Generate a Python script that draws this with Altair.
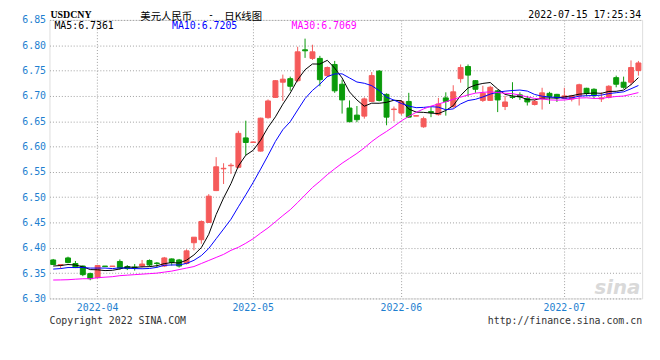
import altair as alt
import pandas as pd

# ---- data ----
dates = [
    "2022-03-24", "2022-03-25", "2022-03-28", "2022-03-29", "2022-03-30", "2022-03-31",
    "2022-04-01", "2022-04-02", "2022-04-06", "2022-04-07", "2022-04-08", "2022-04-11",
    "2022-04-12", "2022-04-13", "2022-04-14", "2022-04-15", "2022-04-18", "2022-04-19",
    "2022-04-20", "2022-04-21", "2022-04-22", "2022-04-24", "2022-04-25", "2022-04-26",
    "2022-04-27", "2022-04-28", "2022-04-29",
    "2022-05-05", "2022-05-06", "2022-05-07", "2022-05-09", "2022-05-10", "2022-05-11",
    "2022-05-12", "2022-05-13", "2022-05-16", "2022-05-17", "2022-05-18", "2022-05-19",
    "2022-05-20", "2022-05-23", "2022-05-24", "2022-05-25", "2022-05-26", "2022-05-27",
    "2022-05-30", "2022-05-31",
    "2022-06-01", "2022-06-02", "2022-06-03", "2022-06-06", "2022-06-07", "2022-06-08",
    "2022-06-09", "2022-06-10", "2022-06-13", "2022-06-14", "2022-06-15", "2022-06-16",
    "2022-06-17", "2022-06-20", "2022-06-21", "2022-06-22", "2022-06-23", "2022-06-24",
    "2022-06-27", "2022-06-28", "2022-06-29", "2022-06-30",
    "2022-07-01", "2022-07-04", "2022-07-05", "2022-07-06", "2022-07-07", "2022-07-08",
    "2022-07-11", "2022-07-12", "2022-07-13", "2022-07-14", "2022-07-15",
]

opens = [
    6.376, 6.365, 6.380, 6.369, 6.364, 6.349, 6.341, 6.364, 6.363, 6.373,
    6.363, 6.362, 6.364, 6.375, 6.370, 6.364, 6.378, 6.376, 6.369, 6.410,
    6.416, 6.450, 6.513, 6.556, 6.562, 6.559, 6.617, 6.608, 6.591, 6.657,
    6.697, 6.727, 6.734, 6.730, 6.791, 6.774, 6.774, 6.740, 6.762, 6.723,
    6.676, 6.662, 6.660, 6.689, 6.749, 6.703, 6.673, 6.666, 6.689, 6.660,
    6.639, 6.669, 6.663, 6.696, 6.679, 6.734, 6.758, 6.730, 6.691, 6.691,
    6.710, 6.679, 6.698, 6.702, 6.695, 6.683, 6.694, 6.705, 6.703, 6.695,
    6.694, 6.700, 6.715, 6.713, 6.694, 6.697, 6.736, 6.727, 6.727, 6.750,
]
closes = [
    6.367, 6.367, 6.371, 6.361, 6.347, 6.339, 6.365, 6.363, 6.364, 6.360,
    6.359, 6.361, 6.368, 6.366, 6.369, 6.380, 6.371, 6.364, 6.394, 6.421,
    6.452, 6.502, 6.560, 6.557, 6.563, 6.626, 6.608, 6.609, 6.656, 6.690,
    6.730, 6.733, 6.719, 6.787, 6.789, 6.787, 6.732, 6.756, 6.710, 6.692,
    6.649, 6.653, 6.694, 6.740, 6.691, 6.658, 6.674, 6.689, 6.658, 6.661,
    6.655, 6.667, 6.684, 6.689, 6.708, 6.756, 6.741, 6.713, 6.705, 6.717,
    6.692, 6.688, 6.697, 6.698, 6.688, 6.689, 6.706, 6.699, 6.696, 6.700,
    6.700, 6.722, 6.705, 6.702, 6.696, 6.719, 6.723, 6.717, 6.756, 6.765,
]
highs = [
    6.378, 6.368, 6.3825, 6.374, 6.365, 6.351, 6.366, 6.364, 6.364, 6.377,
    6.366, 6.368, 6.376, 6.377, 6.372, 6.382, 6.379, 6.378, 6.397, 6.421,
    6.454, 6.506, 6.579, 6.567, 6.567, 6.631, 6.651, 6.610, 6.657, 6.693,
    6.731, 6.742, 6.738, 6.797, 6.813, 6.801, 6.779, 6.758, 6.769, 6.732,
    6.691, 6.680, 6.697, 6.747, 6.751, 6.705, 6.679, 6.692, 6.706, 6.661,
    6.659, 6.678, 6.696, 6.707, 6.721, 6.762, 6.762, 6.731, 6.720, 6.720,
    6.712, 6.700, 6.727, 6.707, 6.700, 6.692, 6.716, 6.708, 6.704, 6.716,
    6.702, 6.724, 6.716, 6.715, 6.707, 6.721, 6.740, 6.738, 6.770, 6.769,
]
lows = [
    6.366, 6.359, 6.3695, 6.360, 6.344, 6.336, 6.340, 6.363, 6.363, 6.357,
    6.356, 6.355, 6.361, 6.363, 6.361, 6.362, 6.365, 6.361, 6.367, 6.395,
    6.408, 6.449, 6.512, 6.526, 6.546, 6.557, 6.583, 6.607, 6.590, 6.655,
    6.696, 6.690, 6.710, 6.727, 6.775, 6.771, 6.719, 6.737, 6.706, 6.665,
    6.648, 6.648, 6.655, 6.688, 6.689, 6.642, 6.650, 6.662, 6.657, 6.660,
    6.637, 6.658, 6.661, 6.661, 6.676, 6.726, 6.699, 6.706, 6.688, 6.690,
    6.668, 6.672, 6.694, 6.692, 6.681, 6.681, 6.673, 6.684, 6.688, 6.693,
    6.689, 6.681, 6.700, 6.695, 6.688, 6.695, 6.717, 6.714, 6.721, 6.740,
]

# moving-average values at the start of the window (read from the picture,
# they depend on days before the first candle)
ma5_head = [6.364, 6.365, 6.367, 6.366]
ma10_head = [6.358, 6.359, 6.361, 6.361, 6.361, 6.360, 6.360, 6.360, 6.359]
ma30_head = [
    6.3364, 6.3366, 6.3370, 6.3380, 6.3389, 6.3390, 6.3410, 6.3420, 6.3430, 6.3450,
    6.3460, 6.3470, 6.3480, 6.3490, 6.3500, 6.3520, 6.3540, 6.3570, 6.3600, 6.3630,
    6.3690, 6.3750, 6.3810, 6.3870, 6.3950, 6.4010, 6.4090, 6.4180, 6.4290,
]

month_ticks = ["2022-04-01", "2022-05-05", "2022-06-01", "2022-07-01"]
y_ticks = [6.30, 6.35, 6.40, 6.45, 6.50, 6.55, 6.60, 6.65, 6.70, 6.75, 6.80, 6.85]
series_names = ["MA5", "MA10", "MA30"]

# ---- styling ----
RED = "#F55A5A"
GREEN = "#0A9A0A"
AXIS_BLUE = "#1E7FD0"
GRID = "#A0A0A0"
MONO = "DejaVu Sans Mono"

df = pd.DataFrame({"date": dates, "open": opens, "high": highs, "low": lows, "close": closes})
df["dir"] = ["up" if c >= o else "down" for o, c in zip(opens, closes)]


def moving(values, n, head):
    s = pd.Series(values).rolling(n).mean()
    s.iloc[: len(head)] = head
    return s


lines = pd.concat([
    pd.DataFrame({"date": dates, "value": moving(closes, 5, ma5_head), "series": "MA5"}),
    pd.DataFrame({"date": dates, "value": moving(closes, 10, ma10_head), "series": "MA10"}),
    pd.DataFrame({"date": dates, "value": moving(closes, 30, ma30_head), "series": "MA30"}),
])


def xenc():
    return alt.X(
        "date:O",
        title=None,
        scale=alt.Scale(type="band", paddingInner=0, paddingOuter=0),
        axis=alt.Axis(
            values=month_ticks,
            labelExpr="substring(datum.value, 0, 7)",
            labelAngle=0,
            labelColor=AXIS_BLUE,
            labelFont=MONO,
            labelFontSize=10,
            labelPadding=4,
            ticks=False,
            domain=False,
            grid=True,
            gridColor=GRID,
            gridDash=[1, 2],
            bandPosition=0.5,
        ),
    )


def yenc(field):
    return alt.Y(
        field,
        title=None,
        scale=alt.Scale(domain=[6.30, 6.85], nice=False, zero=False),
        axis=alt.Axis(
            values=y_ticks,
            format=".2f",
            labelColor=AXIS_BLUE,
            labelFont=MONO,
            labelFontSize=10,
            labelPadding=4,
            ticks=False,
            domain=False,
            grid=True,
            gridColor=GRID,
            gridDash=[1, 2],
        ),
    )


cscale = alt.Scale(domain=["up", "down"], range=[RED, GREEN])

wicks = alt.Chart(df).mark_rule(strokeWidth=1).encode(
    x=xenc(), y=yenc("low:Q"), y2="high:Q",
    stroke=alt.Stroke("dir:N", scale=cscale, legend=None),
)
bodies = alt.Chart(df).mark_bar(size=5, strokeWidth=1).encode(
    x=xenc(), y=yenc("open:Q"), y2="close:Q",
    fill=alt.Fill("dir:N", scale=cscale, legend=None),
    stroke=alt.Stroke("dir:N", scale=cscale, legend=None),
)
ma = alt.Chart(lines).mark_line(strokeWidth=1).encode(
    x=xenc(), y=yenc("value:Q"),
    color=alt.Color("series:N",
                    scale=alt.Scale(domain=series_names,
                                    range=["#000000", "#0000FF", "#FF00FF"]),
                    legend=None),
)


def label(text, x, y, color="#000000", size=10, font=MONO, align="left", weight="normal",
          style="normal", baseline="middle"):
    return alt.Chart(pd.DataFrame({"t": [text]})).mark_text(
        align=align, baseline=baseline, font=font, fontSize=size, color=color,
        fontWeight=weight, fontStyle=style,
    ).encode(text="t:N", x=alt.value(x), y=alt.value(y))


CJK = "Noto Sans CJK SC"
texts = [
    label("USDCNY", 1, -4.5, font="Liberation Serif", size=10, weight="bold"),
    label("美元人民币", 92, -0.3, font=CJK, size=10.5, baseline="alphabetic"),
    label("-", 163.5, -5, align="center"),
    label("日K线图", 177, -0.3, font=CJK, size=10.5, baseline="alphabetic"),
    label("2022-07-15 17:25:34", 599, -5, align="right"),
    label("MA5:6.7361", 5, 6, color="#000000"),
    label("MA10:6.7205", 124, 6, color="#0000FF"),
    label("MA30:6.7069", 245, 6, color="#FF00FF"),
    label("Copyright 2022 SINA.COM", 0, 305, color="#333333"),
    label("http://finance.sina.com.cn", 600, 305, color="#333333", align="right"),
    label("sina", 575, 271, color="#D9D9D9", size=20, font="DejaVu Sans", weight="bold",
          style="italic", align="center"),
]

chart = alt.layer(wicks, bodies, ma, *texts).properties(
    width=600,
    height=282,
    autosize=alt.AutoSizeParams(type="none"),
    padding={"left": 42, "top": 10, "right": 10, "bottom": 40},
).configure_view(stroke="#999999", strokeWidth=1).configure(background="white")

chart.save("out.html", embed_options={"renderer": "svg", "actions": False})
